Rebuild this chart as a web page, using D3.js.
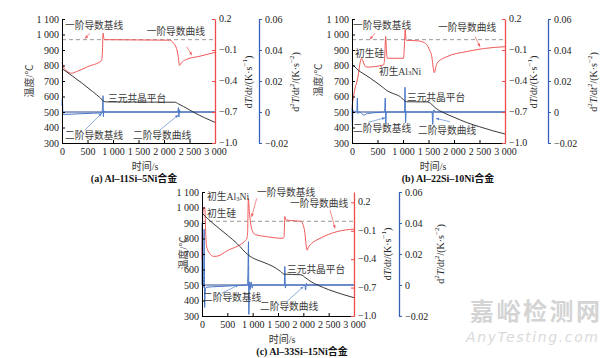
<!DOCTYPE html>
<html><head><meta charset="utf-8">
<script src="https://cdn.jsdelivr.net/npm/d3@7"></script>
<style>body{margin:0;background:#fff}svg{display:block}</style>
</head><body>
<svg id="c" width="613" height="358"></svg>
<script>
// ---------------- DATA ----------------
const xTicks = [0, 500, 1000, 1500, 2000, 2500, 3000];
const tempTicks = [300, 400, 500, 600, 700, 800, 900, 1000, 1100];
const dTTicks = [-1.0, -0.7, -0.4, -0.1, 0.2];
const d2TTicks = [-0.02, 0, 0.02, 0.04, 0.06];

// (a) Al-11Si-5Ni  [time s, value]
const tempA = [[0,780],[200,733],[400,684],[600,632],[750,591],[830,567],[880,565],[2214,563],[2280,553],[2378,536],[2574,500],[2800,462],[3000,433]];
const dTA = [[0,-0.22],[30,-0.265],[90,-0.30],[185,-0.325],[280,-0.31],[500,-0.262],[774,-0.203],[792,-0.12],[806,0.062],[822,0.01],[845,0.0],[2110,-0.005],[2180,-0.03],[2245,-0.085],[2280,-0.165],[2305,-0.25],[2325,-0.235],[2365,-0.212],[2445,-0.19],[2705,-0.16],[3000,-0.123]];
const d2TA = [[0,0.004],[8,0.009],[18,-0.0015],[60,-0.0015],[300,-0.0012],[600,-0.0008],[785,-0.0005],[798,0.006],[805,0.0105],[811,-0.003],[820,0.0008],[835,0],[2270,0],[2283,0.0028],[2292,-0.0033],[2302,0.0015],[2315,0],[3000,0]];

// (b) Al-22Si-10Ni
const tempB = [[0,810],[60,790],[120,770],[200,752],[360,718],[620,655],[690,637],[800,620],[950,598],[1040,570],[1070,566],[1480,565],[1540,556],[1630,528],[1800,495],[2000,466],[2250,432],[2500,405],[2750,380],[3000,358]];
const dTB = [[0,-0.65],[30,-0.55],[60,-0.47],[100,-0.40],[130,-0.32],[160,-0.22],[185,-0.18],[210,-0.20],[260,-0.26],[320,-0.265],[619,-0.244],[640,-0.18],[660,0.03],[675,-0.10],[692,-0.18],[1010,-0.18],[1028,-0.05],[1043,0.10],[1060,-0.005],[1300,-0.012],[1400,-0.025],[1460,-0.045],[1520,-0.10],[1565,-0.165],[1595,-0.28],[1615,-0.32],[1640,-0.27],[1680,-0.22],[1860,-0.165],[2250,-0.115],[2600,-0.085],[3000,-0.068]];
const d2TB = [[0,0.003],[8,-0.009],[20,0.001],[60,0],[95,0.001],[105,0.009],[115,-0.001],[150,0],[228,-0.002],[300,-0.001],[500,-0.0003],[640,0],[652,0.009],[662,-0.0075],[675,0],[1030,0],[1040,0.016],[1050,-0.007],[1062,0.0005],[1075,0],[1570,0],[1583,-0.008],[1595,0.001],[1612,0.0012],[1630,0],[3000,0]];

// (c) Al-33Si-15Ni
const tempC = [[0,965],[100,932],[300,875],[500,822],[700,765],[900,697],[1000,675],[1200,648],[1400,620],[1550,588],[1620,570],[1950,566],[2050,545],[2150,522],[2300,497],[2500,470],[2750,442],[3000,418]];
const dTC = [[0,-0.40],[10,0.0],[25,0.12],[50,0.15],[62,0.08],[75,-0.15],[90,-0.26],[110,-0.30],[150,-0.34],[230,-0.37],[280,-0.37],[500,-0.31],[880,-0.19],[900,-0.12],[915,0.24],[935,0.1],[955,0.0],[985,-0.09],[1050,-0.14],[1250,-0.16],[1600,-0.18],[1620,-0.16],[1635,0.05],[1655,0.015],[1750,0.008],[1950,0.0],[1990,-0.03],[2030,-0.12],[2060,-0.27],[2075,-0.305],[2100,-0.275],[2167,-0.233],[2330,-0.18],[2660,-0.11],[3000,-0.082]];
const d2TC = [[0,0],[5,0.04],[12,-0.002],[30,0],[42,0.036],[52,-0.0145],[62,-0.006],[80,-0.0015],[300,-0.001],[600,-0.0005],[890,0],[905,0.006],[918,0.028],[925,-0.019],[935,0.002],[950,-0.003],[970,0.002],[990,-0.002],[1010,0],[1625,0],[1635,0.012],[1645,-0.002],[1660,0],[2030,0],[2045,-0.0032],[2060,0.0011],[2075,0],[3000,0]];

// annotations: [text, time, temperature] (left edge, vertical centre)
const notesA = [["一阶导数基线",59,1061],["一阶导数曲线",1661,1025],["三元共晶平台",902,588],["二阶导数基线",59,352],["二阶导数曲线",1392,352]];
const arrowsA = [["r",549,1008,451,975],["r",2445,921,2543,868],["b",451,384,778,492],["b",1922,384,2280,481]];
const notesB = [["一阶导数基线",20,1061],["一阶导数曲线",1686,1050],["初生硅",59,879],["初生Al_3Ni",529,767],["三元共晶平台",1078,599],["二阶导数基线",20,395],["二阶导数曲线",1294,384]];
const arrowsB = [["r",451,1008,353,969],["r",2412,986,2510,921],["b",320,433,647,463],["b",1922,437,1647,459]];
const notesC = [["初生Al_3Ni",99,1074],["初生硅",99,966],["一阶导数基线",1086,1100],["一阶导数曲线",1737,1027],["三元共晶平台",1678,601],["二阶导数基线",20,425],["二阶导数曲线",1145,365]];
const arrowsC = [["r",1080,1059,981,941],["r",2526,984,2625,866],["b",389,446,716,500],["b",1672,392,1999,489]];

const captions = ["(a) Al–11Si–5Ni合金", "(b) Al–22Si–10Ni合金", "(c) Al–33Si–15Ni合金"];

// ---------------- LAYOUT ----------------
const layouts = [
  {x0:62, x1:215, y0:19, y1:143, blueX:259, redMax:0.2, tLab:[29,81], rLab:[248,82], bLab:[295,82], xLab:[145,165.5], cap:[134,177.8]},
  {x0:352, x1:505, y0:19, y1:143, blueX:548, redMax:0.2, tLab:[318,80], rLab:[533,82], bLab:[593,82], xLab:[433,165.5], cap:[448,177.8]},
  {x0:202, x1:354, y0:192, y1:316, blueX:399, redMax:0.309, tLab:[183,253], rLab:[387,254], bLab:[440,254], xLab:[282,338.5], cap:[302,351.3]}
];
const datasets = [
  {temp:tempA, dT:dTA, d2T:d2TA, notes:notesA, arrows:arrowsA},
  {temp:tempB, dT:dTB, d2T:d2TB, notes:notesB, arrows:arrowsB},
  {temp:tempC, dT:dTC, d2T:d2TC, notes:notesC, arrows:arrowsC}
];

const NUM = "'Liberation Serif','Times New Roman',serif";
const MIX = "'Liberation Serif','Noto Sans CJK SC',serif";
const RED = "#f25858", REDAX = "#f04a4a", BLUE = "#4474c8", BLUEAX = "#3560b5", BASEB = "#2a4794";
const svg = d3.select("#c");

// watermark
svg.append("text").attr("x",470).attr("y",320).attr("textLength",130).attr("font-family","'Noto Sans CJK SC'").attr("font-weight","bold").attr("font-size",24).attr("fill","#d4d4d4").text("嘉峪检测网");
svg.append("text").attr("x",466).attr("y",342).attr("textLength",132).attr("font-family","'DejaVu Sans'").attr("font-style","italic").attr("font-size",14).attr("fill","#dadada").text("AnyTesting.com");

const fmtSpace = d => d3.format(",")(d).replace(/,/g, " ");
const fmtMinus = f => d => { const s = f(d); return s.replace("-", "−"); };
const defs = svg.append("defs");
["r","b"].forEach(k => {
  defs.append("marker").attr("id","ar"+k).attr("viewBox","0 0 10 10").attr("refX",9).attr("refY",5)
    .attr("markerWidth",5).attr("markerHeight",5).attr("orient","auto-start-reverse")
    .append("path").attr("d","M0,1L10,5L0,9z").attr("fill", k==="r" ? RED : "#5a86d0");
});

function addLabel(g, x, y, parts, opts) {
  const t = g.append("text").attr("transform", `translate(${x},${y}) rotate(${opts.rot||0})`)
    .attr("text-anchor", opts.anchor || "middle").attr("dominant-baseline","central")
    .attr("font-family", MIX).attr("font-size", opts.size || 10).attr("fill", opts.fill || "#333")
    .attr("font-weight", opts.weight || "normal");
  let shift = 0;
  parts.forEach(p => {
    const [s, style] = p;
    const ts = t.append("tspan").text(s);
    let target = 0;
    if (style === "sup") target = -3.5; else if (style === "sub") target = 2.5;
    if (target !== shift) { ts.attr("dy", target - shift); shift = target; }
    if (style === "sup" || style === "sub") ts.attr("font-size", 7);
    if (style === "i") ts.attr("font-style", "italic");
  });
}

function parseNote(s) {
  if (s.includes("_3")) { const [a, b] = s.split("_3"); return [[a,""],["3","sub"],[b,""]]; }
  return [[s,""]];
}

layouts.forEach((L, i) => {
  const D = datasets[i];
  const g = svg.append("g");
  const x = d3.scaleLinear([0, 3000], [L.x0, L.x1]);
  const yT = d3.scaleLinear([300, 1100], [L.y1, L.y0]);
  const yR = d3.scaleLinear([-1.0, L.redMax], [L.y1, L.y0]);
  const yB = d3.scaleLinear([-0.02, 0.06], [L.y1, L.y0]);

  // baselines
  g.append("line").attr("x1", L.x0).attr("x2", L.x1).attr("y1", yR(0)).attr("y2", yR(0))
    .attr("stroke", "#8c8c8c").attr("stroke-width", 0.9).attr("stroke-dasharray", "4,3");
  g.append("line").attr("x1", L.x0).attr("x2", L.x1).attr("y1", yB(0)).attr("y2", yB(0))
    .attr("stroke", BASEB).attr("stroke-width", 1);

  const mk = ys => d3.line().x(d => x(d[0])).y(d => ys(d[1])).curve(d3.curveMonotoneX);
  g.append("path").attr("d", mk(yB)(D.d2T)).attr("fill","none").attr("stroke", BLUE).attr("stroke-width", 1);
  g.append("path").attr("d", mk(yR)(D.dT)).attr("fill","none").attr("stroke", RED).attr("stroke-width", 1);
  g.append("path").attr("d", mk(yT)(D.temp)).attr("fill","none").attr("stroke", "#222").attr("stroke-width", 0.9);

  // axes
  const styleAxis = (a, col) => {
    a.attr("font-family", NUM).attr("font-size", 10);
    a.select(".domain").attr("stroke", col).attr("stroke-width", col === "#000" ? 1 : 1.3);
    a.selectAll(".tick line").attr("stroke", col);
    a.selectAll(".tick text").attr("fill", "#222");
  };
  const ax = g.append("g").attr("transform", `translate(0,${L.y1})`)
    .call(d3.axisBottom(x).tickValues(xTicks).tickFormat(fmtSpace).tickSizeInner(-3).tickSizeOuter(0).tickPadding(4.5));
  styleAxis(ax, "#000");
  const ay = g.append("g").attr("transform", `translate(${L.x0},0)`)
    .call(d3.axisLeft(yT).tickValues(tempTicks).tickFormat(fmtSpace).tickSizeInner(-3).tickSizeOuter(0).tickPadding(3));
  styleAxis(ay, "#000");
  const ar = g.append("g").attr("transform", `translate(${L.x1},0)`)
    .call(d3.axisRight(yR).tickValues(dTTicks).tickFormat(fmtMinus(d3.format(".1f"))).tickSizeInner(-3).tickSizeOuter(0).tickPadding(4));
  styleAxis(ar, REDAX);
  ar.selectAll(".tick text").attr("dy", "0.25em");
  const ab = g.append("g").attr("transform", `translate(${L.blueX},0)`)
    .call(d3.axisRight(yB).tickValues(d2TTicks).tickFormat(fmtMinus(d => d === 0 ? "0" : d3.format(".2f")(d))).tickSizeInner(3).tickSizeOuter(0).tickPadding(3));
  styleAxis(ab, BLUEAX);

  // axis titles
  addLabel(g, L.tLab[0], L.tLab[1], [["温度/℃",""]], {rot:-90, fill:"#444"});
  addLabel(g, L.rLab[0], L.rLab[1], [["d",""],["T","i"],["/d",""],["t","i"],["/(K·s",""],["−1","sup"],[")",""]], {rot:-90, fill:"#222"});
  addLabel(g, L.bLab[0], L.bLab[1], [["d",""],["2","sup"],["T","i"],["/d",""],["t","i"],["2","sup"],["/(K·s",""],["−2","sup"],[")",""]], {rot:-90, fill:"#222"});
  addLabel(g, L.xLab[0], L.xLab[1], [["时间/s",""]], {fill:"#333"});
  addLabel(g, L.cap[0], L.cap[1], [[captions[i],""]], {fill:"#111", weight:"bold"});

  // annotations
  D.notes.forEach(n => addLabel(g, x(n[1]), yT(n[2]), parseNote(n[0]), {anchor:"start", size:9.7, fill:"#3a3a3a"}));
  D.arrows.forEach(a => {
    g.append("line").attr("x1", x(a[1])).attr("y1", yT(a[2])).attr("x2", x(a[3])).attr("y2", yT(a[4]))
      .attr("stroke", a[0] === "r" ? RED : "#5a86d0").attr("stroke-width", 0.7)
      .attr("marker-end", `url(#ar${a[0]})`);
  });
});
</script>
</body></html>
